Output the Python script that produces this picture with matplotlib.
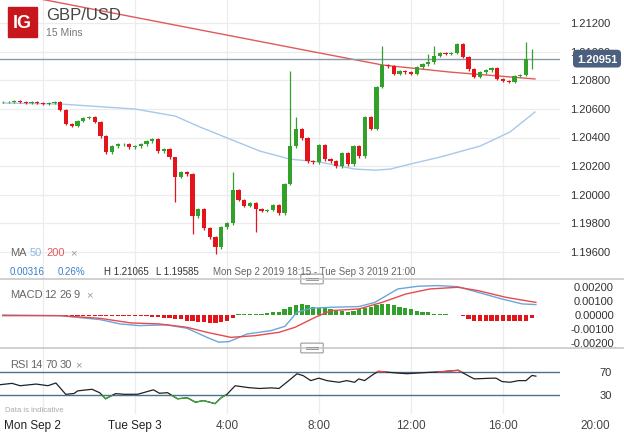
import numpy as np
import matplotlib
matplotlib.use("Agg")
import matplotlib.pyplot as plt
from matplotlib.patches import Rectangle, FancyBboxPatch

plt.rcParams['font.family'] = ['Liberation Sans', 'DejaVu Sans']

W, H = 624, 435
# ---------------- data ----------------
closes = [1.20648, 1.20648, 1.20655, 1.20648, 1.20641, 1.20648, 1.20641, 1.20634, 1.20641, 1.20648,
          1.20592, 1.20494, 1.20480, 1.20515, 1.20536, 1.20543, 1.20508, 1.20410, 1.20298, 1.20340,
          1.20354, 1.20354, 1.20333, 1.20340, 1.20354, 1.20375, 1.20389, 1.20305, 1.20319, 1.20263,
          1.20124, 1.20158, 1.20144, 1.19851, 1.19900, 1.19767, 1.19704, 1.19634, 1.19774, 1.19802,
          1.20033, 1.19963, 1.19921, 1.19942, 1.19900, 1.19886, 1.19893, 1.19928, 1.19872, 1.20075,
          1.20340, 1.20459, 1.20396, 1.20235, 1.20228, 1.20347, 1.20249, 1.20235, 1.20200, 1.20291,
          1.20214, 1.20340, 1.20270, 1.20543, 1.20459, 1.20753, 1.20906, 1.20899, 1.20844, 1.20864,
          1.20857, 1.20844, 1.20892, 1.20913, 1.20927, 1.20969, 1.20990, 1.20983, 1.20990, 1.21053,
          1.20962, 1.20878, 1.20823, 1.20857, 1.20871, 1.20885, 1.20809, 1.20795, 1.20788, 1.20830,
          1.20837, 1.20948, 1.20951]
high_over = {30: 1.20158, 40: 1.20159, 50: 1.20864, 51: 1.20543, 66: 1.21039, 74: 1.20983,
             75: 1.21039, 91: 1.21065, 92: 1.21018}
low_over = {30: 1.19949, 33: 1.19725, 37: 1.19585, 44: 1.19739, 92: 1.20878}
start_hour = -5.75  # Mon Sep 2 18:15, hours relative to Tue Sep 3 00:00

ma200_h = [-5.75, -4.13, 8.04, 10.78, 13.7, 17.39]
ma200_v = [1.21425, 1.21368, 1.20990, 1.20906, 1.20857, 1.20809]
ma50_h = [-5.75, -3.26, 0, 1.74, 2.83, 4.13, 5.43, 6.74, 8.04, 9.57, 10.43, 11.09, 11.96, 13.26, 15, 16.3, 17.39]
ma50_v = [1.20641, 1.20634, 1.20599, 1.20550, 1.20473, 1.20389, 1.20305, 1.20249, 1.20228, 1.20179,
          1.20172, 1.20179, 1.20214, 1.20263, 1.20340, 1.20438, 1.20578]

macd_h = [-5.75, -3.26, -1.52, -0.65, 0.17, 1.39, 2.26, 3.13, 3.65, 4.09, 4.87, 5.91, 6.52, 7.04, 7.65,
          8.52, 9.74, 10.43, 11.43, 12.3, 13.17, 14.04, 14.91, 15.96, 16.83, 17.43]
macd_v = [0, -0.00005, -0.00033, -0.00064, -0.00076, -0.00071, -0.00095, -0.0016, -0.00195, -0.0019,
          -0.00136, -0.00112, -0.00081, 0.00019, 0.00048, 0.00055, 0.0006, 0.0009, 0.00186, 0.00205,
          0.0021, 0.00202, 0.00162, 0.00114, 0.00079, 0.00074]
sig_h = [-5.75, -3.26, -1.52, -0.17, 1.04, 2.26, 3.13, 4.17, 5.22, 6.26, 6.96, 7.83, 8.52, 9.74, 10.74,
         11.78, 12.83, 14.04, 14.91, 16.13, 17.43]
sig_v = [-0.00005, -0.00005, -0.00024, -0.00057, -0.00064, -0.00088, -0.00124, -0.0016, -0.00148,
         -0.00124, -0.00088, -0.00017, 0.00031, 0.00043, 0.0009, 0.0015, 0.00186, 0.00198, 0.00174,
         0.00126, 0.0009]
hist = [0, 0, 0, 0, 0, 0, 0, 0, 0, 0,
        0, -0.0001, -0.0001, -0.0001, -0.0001, -0.0001, -0.0001, -0.0001, -0.0001, -0.0001,
        -0.0001, -0.0001, -0.0001, -0.0001, -0.0001, -0.0001, -0.00015, -0.00015, -0.0002, -0.0002,
        -0.0003, -0.0003, -0.0004, -0.0004, -0.0005, -0.0005, -0.0006, -0.0006, -0.0005, -0.0004,
        -0.0002, 0.00005, 0.00005, 0.0001, 0.0001, 0.0001, 0.00015, 0.0002, 0.0002, 0.0004,
        0.0006, 0.0007, 0.0008, 0.0007, 0.0006, 0.0005, 0.0005, 0.0004, 0.0003, 0.0003,
        0.0002, 0.0003, 0.0004, 0.0005, 0.0006, 0.0007, 0.0008, 0.0008, 0.0007, 0.0006,
        0.0005, 0.0004, 0.0003, 0.0002, 0.0002, 0.0001, 0.0001, 0.00005, 0, 0,
        -0.0001, -0.0003, -0.0004, -0.0004, -0.0004, -0.0004, -0.0004, -0.0004, -0.0004, -0.0004,
        -0.0004, -0.0004, -0.0002]

rsi_h = [-5.87, -5.35, -5.0, -4.31, -3.79, -3.44, -3.01, -2.66, -2.49, -1.88, -1.54, -1.28, -0.85, -0.5,
         0.11, 0.80, 1.06, 1.41, 1.84, 2.27, 2.62, 2.97, 3.48, 3.74, 4.0, 4.35, 4.87, 5.39, 5.91, 6.26,
         6.60, 7.04, 7.30, 7.64, 7.99, 8.34, 8.86, 9.20, 9.55, 9.72, 9.98, 10.33, 10.59, 11.19, 11.80,
         12.49, 13.18, 14.05, 14.74, 15.44, 15.70, 15.96, 16.30, 16.65, 17.0, 17.26, 17.43]
rsi_v = [47.9, 50.3, 46.1, 49.1, 46.1, 50.9, 31.2, 32.4, 37.2, 40.1, 34.2, 23.4, 32.4, 31.2, 31.2, 39,
         33, 34.2, 23.4, 25.2, 17.5, 20.4, 15, 25.2, 31.2, 46.1, 43.1, 41.3, 42.5, 41.3, 52.1, 67, 64,
         55, 59.3, 55, 52.1, 55, 52.1, 58, 55, 65.2, 71.2, 68.8, 67, 68.8, 70, 73, 58, 59.3, 59.3, 53.3,
         52.1, 55, 55, 64, 62.8]

price_ticks = [1.21200, 1.21000, 1.20800, 1.20600, 1.20400, 1.20200, 1.20000, 1.19800, 1.19600]
macd_ticks = [0.002, 0.001, 0.0, -0.001, -0.002]
xtick_h = [-6.0, 0, 4, 8, 12, 16, 20]
xtick_lab = ["Mon Sep 2", "Tue Sep 3", "4:00", "8:00", "12:00", "16:00", "20:00"]
last_price = 1.20951

# ---------------- figure ----------------
fig = plt.figure(figsize=(W / 100, H / 100), dpi=100)
fig.patch.set_facecolor('white')
PW = 560

def ax_px(top, bottom):
    return fig.add_axes([0, 1 - bottom / H, PW / W, (bottom - top) / H])

x0h = -135 / 23
x1h = (PW - 135) / 23
GREEN = '#34a02c'
RED = '#e3151a'
GRID = '#ececec'
vgrid = [-4, 0, 4, 8, 12, 16, 20]

ax = ax_px(0, 280)
ax1 = ax_px(280, 349)
ax2 = ax_px(349, 415)
for a in (ax, ax1, ax2):
    a.set_xlim(x0h, x1h)
    for s in a.spines.values():
        s.set_visible(False)
    a.set_xticks([]); a.set_yticks([])
    for g in vgrid:
        a.axvline(g, color=GRID, lw=0.9, zorder=0)

# main
pxp = 0.016 / 229
ax.set_ylim(1.212 - 256 * pxp, 1.212 + 24 * pxp)
for p in price_ticks:
    ax.axhline(p, color=GRID, lw=0.9, zorder=0)
n = len(closes)
times = start_hour + 0.25 * np.arange(n)
opens = [closes[0]] + closes[:-1]
cw = 0.19
for i in range(n):
    o, c = opens[i], closes[i]
    col = GREEN if c >= o else RED
    hi = high_over.get(i, max(o, c) + 0.0001)
    lo = low_over.get(i, min(o, c) - 0.0001)
    ax.vlines(times[i], lo, hi, color=col, lw=0.9, zorder=3)
    b = max(abs(c - o), 0.00003)
    ax.add_patch(Rectangle((times[i] - cw / 2, min(o, c)), cw, b, color=col, zorder=4, lw=0))
ax.plot(ma200_h, ma200_v, color='#e05a5a', lw=1.0, zorder=2)
ax.plot(ma50_h, ma50_v, color='#a8c8e8', lw=1.0, zorder=2)
ax.axhline(last_price, color='#8d99a8', lw=1.0, zorder=2)

# macd
ax1.set_ylim(-0.00236, 0.00257)
ax1.bar(times, hist, width=0.18, color=[GREEN if v > 0 else RED for v in hist], zorder=2)
ax1.plot(macd_h, macd_v, color='#6aa6dc', lw=1.0, zorder=3)
ax1.plot(sig_h, sig_v, color='#e8494e', lw=1.0, zorder=3)

# rsi
ax2.set_ylim(-3, 111.7)
ax2.axhline(70, color='#4f6f8f', lw=1.0, zorder=1)
ax2.axhline(30, color='#4f6f8f', lw=1.0, zorder=1)
hh = np.linspace(rsi_h[0], rsi_h[-1], 2000)
vv = np.interp(hh, rsi_h, rsi_v)
ax2.plot(hh, vv, color='#222222', lw=0.9, zorder=2)
ax2.plot(hh, np.where(vv < 30, vv, np.nan), color='#3aa83a', lw=0.9, zorder=3)
ax2.plot(hh, np.where(vv > 70, vv, np.nan), color='#e8494e', lw=0.9, zorder=3)

# separators
for yy in (280, 349):
    fig.add_artist(plt.Line2D([0, 1], [1 - yy / H] * 2, color='#c8c8c8', lw=1.2))
    fig.add_artist(FancyBboxPatch((302 / W, 1 - (yy + 4) / H), 20 / W, 8 / H,
                                  boxstyle="round,pad=0.002", fc='white', ec='#9a9a9a', lw=0.8))
    for d in (-1.2, 1.2):
        fig.add_artist(plt.Line2D([306 / W, 318 / W], [1 - (yy + d) / H] * 2, color='#9a9a9a', lw=0.7))

# right labels
def fy(ax_, v):
    return ax_.transData.transform((0, v))[1] / fig.dpi / (H / 100)
fig.canvas.draw()
for p in price_ticks:
    fig.text(610 / W, fy(ax, p), f"{p:.5f}", ha='right', va='center', fontsize=8, color='#333333', zorder=3)
for m in macd_ticks:
    fig.text(614 / W, fy(ax1, m), f"{m:.5f}", ha='right', va='center', fontsize=8, color='#333333')
for r in (70, 30):
    fig.text(612 / W, fy(ax2, r), str(r), ha='right', va='center', fontsize=8, color='#333333')
fig.text(597 / W, fy(ax, last_price), f"{last_price:.5f}", ha='center', va='center', fontsize=8,
         color='white', fontweight='bold', zorder=5,
         bbox=dict(boxstyle='round,pad=0.35', fc='#4b5f7e', ec='none'))

# header
fig.add_artist(Rectangle((8 / W, 1 - 38 / H), 29 / W, 30 / H, color='#c8161d'))
fig.text(22.5 / W, 1 - 23 / H, "IG", ha='center', va='center', fontsize=13, color='white', fontweight='bold')
fig.text(46 / W, 1 - 16 / H, "GBP/USD", ha='left', va='center', fontsize=12, color='#444444')
fig.text(46 / W, 1 - 33 / H, "15 Mins", ha='left', va='center', fontsize=7.5, color='#777777')

def row(y, parts, fs=8):
    x = 10
    for txt, col, adv in parts:
        fig.text(x / W, 1 - y / H, txt, ha='left', va='center', fontsize=fs, color=col)
        x += adv
row(253, [("MA", '#666666', 20), ("50", '#8fb8de', 16), ("200", '#e05a5a', 24), ("×", '#999999', 0)])
row(272, [("0.00316", '#3a7fc4', 48), ("0.26%", '#3a7fc4', 46), ("H 1.21065", '#333333', 52),
          ("L 1.19585", '#333333', 57), ("Mon Sep 2 2019 18:15 - Tue Sep 3 2019 21:00", '#666666', 0)], fs=7)
row(295, [("MACD", '#666666', 34), ("12", '#666666', 15), ("26", '#666666', 15), ("9", '#666666', 12), ("×", '#999999', 0)])
row(365, [("RSI", '#666666', 20), ("14", '#666666', 15), ("70", '#666666', 15), ("30", '#666666', 15), ("×", '#999999', 0)])
fig.text(5 / W, 1 - 411 / H, "Data is indicative", fontsize=5.5, color='#aaaaaa', va='center')

# x labels
for h, lab in zip(xtick_h, xtick_lab):
    if lab == "Mon Sep 2":
        fig.text(4 / W, 1 - 426 / H, lab, ha='left', va='center', fontsize=8.5, color='#222222')
    else:
        xp = 135 + 23 * h
        fig.text(xp / W, 1 - 426 / H, lab, ha='center', va='center', fontsize=8.5,
                 color='#222222' if 'Sep' in lab else '#444444')

fig.savefig("out.png", dpi=100, facecolor='white')
